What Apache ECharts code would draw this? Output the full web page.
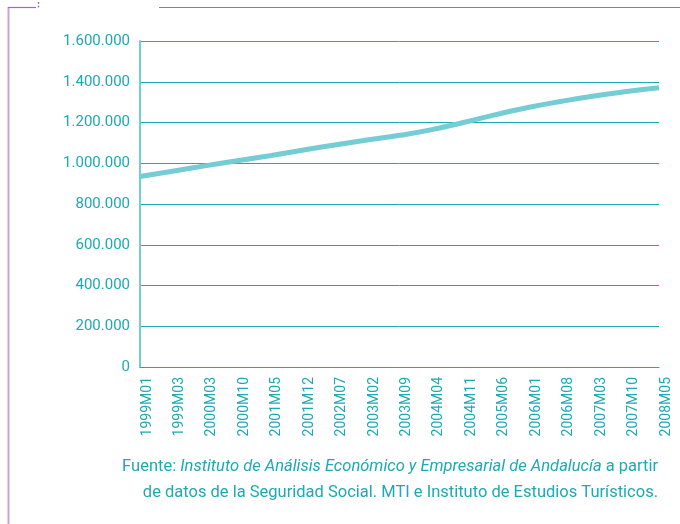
<!DOCTYPE html>
<html>
<head>
<meta charset="utf-8">
<script src="https://cdn.jsdelivr.net/npm/echarts@6/dist/echarts.min.js"></script>
<style>
html,body{margin:0;padding:0;background:#fff;}
#c{width:680px;height:524px;}
</style>
</head>
<body>
<div id="c"></div>
<script>
var categories = ['1999M01','1999M03','2000M03','2000M10','2001M05','2001M12','2002M07','2003M02','2003M09','2004M04','2004M11','2005M06','2006M01','2006M08','2007M03','2007M10','2008M05'];
var values = [935000, 961000, 987000, 1012000, 1037000, 1064000, 1090000, 1114000, 1137000, 1165000, 1201000, 1240000, 1275000, 1304000, 1330000, 1352000, 1371000];
var yTicks = [0, 200000, 400000, 600000, 800000, 1000000, 1200000, 1400000, 1600000];

var teal = '#1ea9b4';
var lineColor = '#74cdd4';
var font = 'Roboto, "Liberation Sans", Arial, sans-serif';

function fmt(v){ return String(v).replace(/\B(?=(\d{3})+(?!\d))/g, '.'); }

var chart = echarts.init(document.getElementById('c'), null, {renderer:'canvas'});
chart.setOption({
  animation: false,
  backgroundColor: '#fff',
  grid: {left: 140, right: 21, top: 41, bottom: 157, containLabel: false},
  xAxis: {
    type: 'category',
    data: categories,
    boundaryGap: false,
    axisLine: {show: true, lineStyle: {color: teal, width: 1}},
    axisTick: {show: false},
    axisLabel: {rotate: 90, margin: 10, interval: 0, color: teal, fontSize: 14, fontFamily: font, verticalAlign: 'top'}
  },
  yAxis: {
    type: 'value',
    min: yTicks[0],
    max: yTicks[yTicks.length-1],
    interval: yTicks[1]-yTicks[0],
    axisLine: {show: true, lineStyle: {color: lineColor, width: 2}},
    axisTick: {show: false},
    splitLine: {show: true, lineStyle: {color: teal, width: 1}},
    axisLabel: {margin: 10, color: teal, fontSize: 15, fontFamily: font, formatter: function(v){ return fmt(v); }}
  },
  series: [{
    type: 'line',
    data: values,
    smooth: true,
    symbol: 'none',
    lineStyle: {color: lineColor, width: 5},
    z: 3
  }],
  graphic: [
    {type:'line', shape:{x1:8.5,y1:7,x2:8.5,y2:524}, style:{stroke:'#c9a3d6', lineWidth:2}},
    {type:'line', shape:{x1:8,y1:7.5,x2:36,y2:7.5}, style:{stroke:'#a06ab4', lineWidth:1.2}},
    {type:'circle', shape:{cx:38.5,cy:3,r:0.9}, style:{fill:'#a06ab4'}},
    {type:'circle', shape:{cx:38.5,cy:6.5,r:0.9}, style:{fill:'#a06ab4'}},
    {type:'line', shape:{x1:159,y1:7.5,x2:680,y2:7.5}, style:{stroke:'#a06ab4', lineWidth:1.2}},
    {type:'text', right: 22, top: 458, style:{
      text: '{n|Fuente: }{i|Instituto de Análisis Económico y Empresarial de Andalucía}{n| a partir}',
      align: 'right',
      rich: {
        n: {fontSize: 16.5, fontFamily: font, fill: teal},
        i: {fontSize: 16.5, fontFamily: font, fill: teal, fontStyle: 'italic'}
      }
    }},
    {type:'text', right: 22, top: 484, style:{
      text: 'de datos de la Seguridad Social. MTI e Instituto de Estudios Turísticos.',
      fontSize: 16.5, fontFamily: font, fill: teal, align: 'right'
    }}
  ]
});
</script>
</body>
</html>
